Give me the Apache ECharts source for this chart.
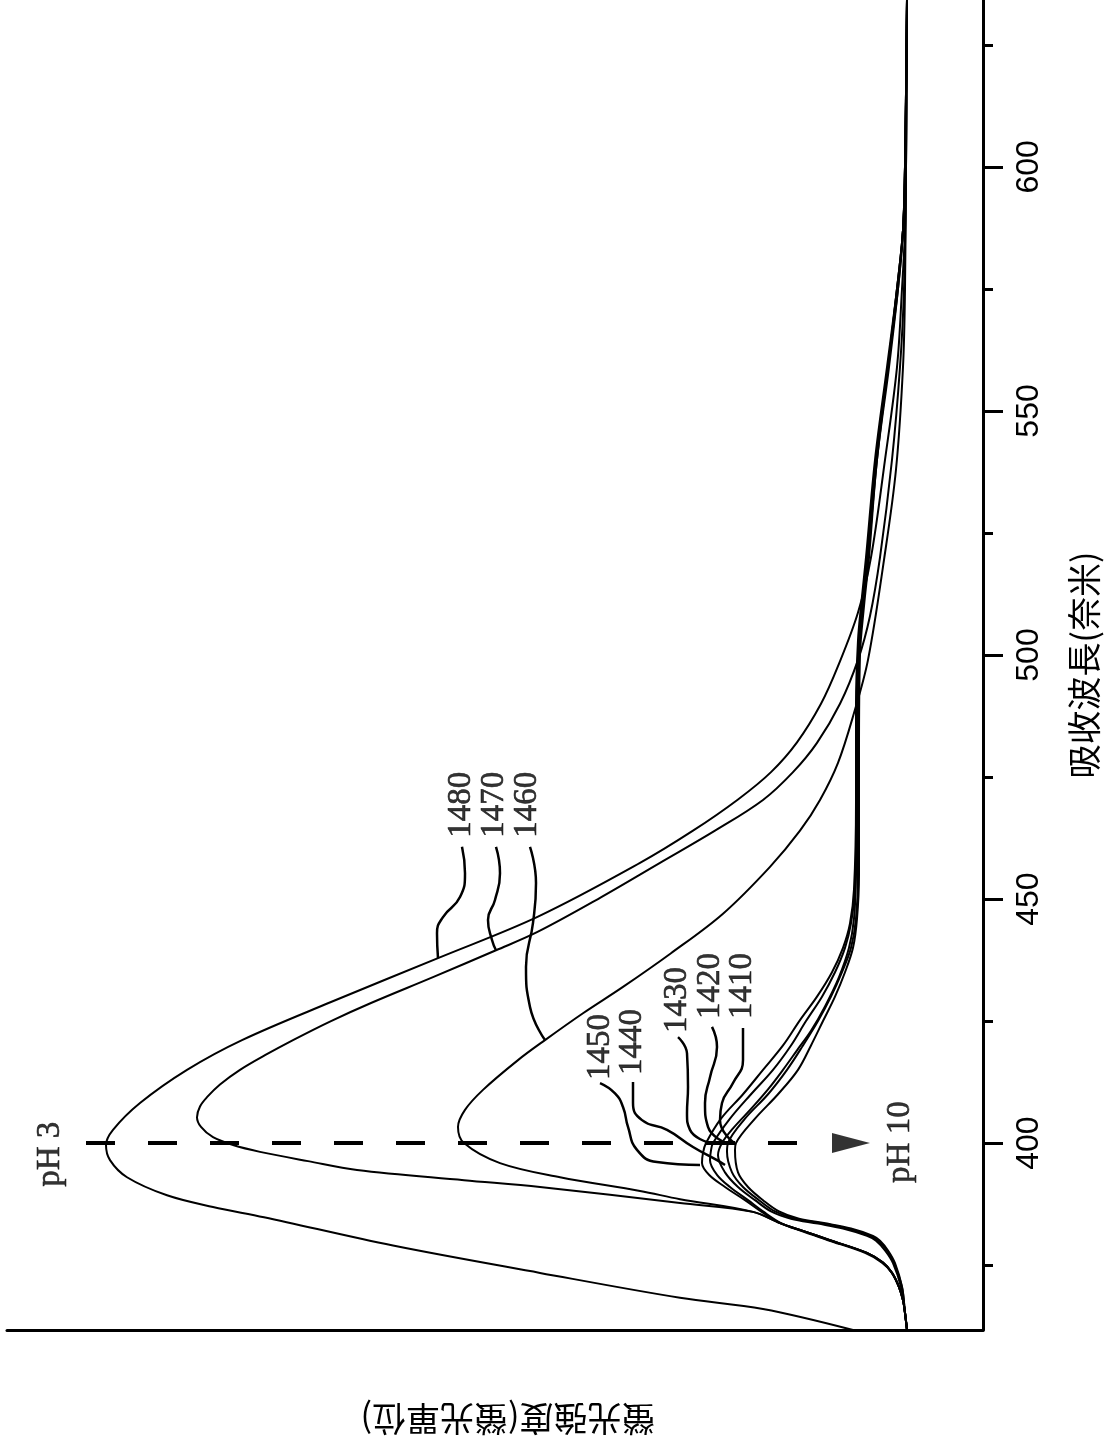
<!DOCTYPE html>
<html>
<head>
<meta charset="utf-8">
<script src="https://cdn.jsdelivr.net/npm/echarts@6/dist/echarts.min.js"></script>
<style>
  html, body { margin: 0; padding: 0; background: #fff; }
  #chart { width: 1112px; height: 1451px; }
</style>
</head>
<body>
<div id="chart"></div>
<script>
// Excitation spectra: each entry is [wavelength (nm), fluorescence intensity]
const curve1480 = [[361.7,130],[366.0,220],[368.3,303],[373.4,443],[379.0,590],[384.8,719],[386.9,770],[389.3,816],[393.0,856],[396.5,873],[399.6,877],[402.7,870],[408.2,843],[415.0,796],[421.1,741],[428.9,652],[437.9,545],[446.4,445],[457.4,343],[464.0,290],[470.4,245],[476.0,212],[482.1,186],[490.0,162],[497.7,145],[508.7,125],[520,112],[540,98],[559,86],[575,81],[587,78],[600,77],[634.2,76]];
const curve1470 = [[361.7,76],[365.2,78],[367.8,80],[370.5,84],[373.4,91],[375.5,100],[377.5,116],[380.1,153],[382.0,180],[383.6,203],[385.9,230],[387.7,303],[391.0,443],[392.4,519],[394.5,626],[396.3,675],[398.2,723],[399.6,750],[401.2,770],[403.3,782],[405.3,786],[407.5,783],[409.4,776],[412.0,763],[415.0,743],[418.0,718],[421.1,690],[425.0,652],[428.7,612],[434.0,550],[439.5,487],[443.2,446],[450.0,385],[457.4,323],[464.0,268],[470.3,220],[476.0,190],[482.0,166],[490.0,143],[499.0,125],[508.0,113],[520,103],[540,91],[559,83],[575,79],[600,77],[634.2,76]];
const curve1460 = [[361.7,76],[365.2,78],[367.8,80],[370.5,84],[373.4,91],[375.5,100],[377.5,116],[380.1,153],[382.0,180],[383.6,203],[385.9,230],[388.5,303],[390.2,343],[393.0,423],[395.9,483],[400.0,519],[403.3,525],[406.8,518],[410.9,500],[417.0,465],[421.1,438],[426.6,400],[432.0,360],[438.9,312],[447.0,260],[456.6,213],[464.0,183],[470.3,163],[477.9,145],[488.1,129],[499.0,115],[519.5,99],[538,87],[559,80],[575,78],[600,77],[634.2,76]];
const curve1450 = [[361.7,76],[365.2,78],[367.8,80],[370.5,84],[373.4,91],[375.5,100],[377.5,116],[380.1,153],[382.0,180],[383.6,203],[386.0,222],[388.3,238],[391.0,258],[393.5,274],[395.9,281],[398.0,280],[400.0,277],[405,262],[410,240],[415,220],[420,200],[425.2,183],[430,166],[435,151],[440,140],[445,133],[452,129],[470,127],[490,127],[503,125],[510,122],[520,117],[540,108],[559,96],[575,86],[587,80],[600,78],[634.2,76]];
const curve1440 = [[361.7,76],[365.2,78],[367.8,80],[370.5,84],[373.4,91],[375.5,101],[377.5,118],[380.1,155],[382.0,182],[383.6,202],[386.0,220],[388.3,235],[391.0,253],[393.5,266],[396.5,273],[398.5,272],[400.0,270],[405,253],[410,232],[415,210],[420,192],[425,177],[430,161],[435,148],[440,138],[445,132],[452,128],[470,126],[490,126],[503,124],[510,121],[520,116],[540,107],[559,95],[575,86],[587,80],[600,78],[634.2,76]];
const curve1430 = [[361.7,76],[365.2,78],[370.5,82],[375.4,90],[378.0,98],[380.0,107],[381.0,116],[382.5,140],[383.5,165],[384.5,192],[386.0,212],[388.3,228],[391.0,245],[394.0,258],[397.5,265],[400.0,261],[403,250],[407,232],[411,215],[415,200],[419,186],[423,172],[428,158],[434,144],[440,134],[446,129],[455,127],[480,126],[500,125],[510,121],[520,116],[540,107],[559,95],[575,86],[587,80],[600,78],[634.2,76]];
const curve1420 = [[361.7,76],[365.2,78],[370.5,81],[375.4,89],[378.0,96],[380.0,105],[381.0,113],[382.5,136],[383.5,160],[384.5,188],[386.0,208],[388.3,224],[391.0,240],[394.0,251],[398.2,256],[400.0,255],[405,238],[410,215],[415,196],[420,180],[425,165],[430,152],[435,141],[440,132],[446,127],[455,125],[480,125],[500,124],[510,120],[520,115],[540,106],[559,95],[575,85],[587,80],[600,78],[634.2,76]];
const curve1410 = [[361.7,76],[365.2,78],[370.5,81],[375.4,88],[378.0,95],[380.0,103],[381.0,110],[382.5,132],[383.5,156],[384.5,184],[386.0,204],[388.3,220],[391.0,235],[394.0,245],[398.6,248],[400.0,247],[405,228],[410,205],[415,185],[420,172],[425,160],[430,148],[435,138],[440,130],[446,126],[455,124],[480,124],[500,123],[510,119],[520,114],[540,106],[559,94],[575,85],[587,80],[600,78],[634.2,76]];

// Wavelength axis
const wavelengthRange = [361.7, 634.2];
const majorTicks = [400, 450, 500, 550, 600];
const minorTicks = [375, 425, 475, 525, 575, 625];
// Intensity axis (arbitrary units, zero at the wavelength axis)
const intensityRange = [0, 976];

// Reference wavelength marker (pH 3 -> pH 10 at 400 nm)
const markerWavelength = 400;
const markerSpan = [897, 183];
const arrowIntensity = 132;

// Reference numerals with their leader lines, in [wavelength, intensity]
const callouts = [
  { text: '1480', at: [469.3, 522], leader: [[460.7,521],[455.3,518],[450.4,523],[446.3,540],[443.0,546],[437.9,545]] },
  { text: '1470', at: [469.3, 489], leader: [[460.7,487],[455.3,483],[449.8,488],[445.7,495],[441.6,491],[439.5,487]] },
  { text: '1460', at: [469.3, 456], leader: [[460.7,453],[453.3,447],[445.1,450],[436.1,457],[427.9,453],[421.1,438]] },
  { text: '1450', at: [419.7, 383], leader: [[412.3,383],[410.2,368],[407.4,360],[403.3,355],[398.6,346],[396.1,326],[395.5,283]] },
  { text: '1440', at: [420.7, 351], leader: [[412.5,350],[408.2,350],[404.7,341],[402.7,316],[399.2,290],[396.5,266],[395.5,258]] },
  { text: '1430', at: [429.3, 306], leader: [[421.7,305],[418.4,296],[411.5,295],[406.1,296],[402.7,293],[400.2,276]] },
  { text: '1420', at: [432.2, 273], leader: [[423.8,271],[419.7,266],[413.5,273],[408.2,278],[403.3,275],[400.0,257]] },
  { text: '1410', at: [432.2, 241], leader: [[423.6,240],[417.0,240],[412.3,250],[408.2,261],[404.7,263],[400.2,250]] }
];
const phNotes = [
  { text: 'pH 3', at: [397.7, 933] },
  { text: 'pH 10', at: [400.2, 83] }
];

const curves = [
  ['1410', curve1410], ['1420', curve1420], ['1430', curve1430], ['1440', curve1440],
  ['1450', curve1450], ['1460', curve1460], ['1470', curve1470], ['1480', curve1480]
];

// [wavelength, intensity] -> [x = intensity, y = wavelength]
const toXY = pts => pts.map(([wl, v]) => [v, wl]);

const series = [];
curves.forEach(([name, pts]) => {
  series.push({
    name: name, type: 'line', data: toXY(pts), smooth: 0.35, symbol: 'none',
    lineStyle: { color: '#000', width: 2 }, silent: true, z: 3
  });
});
callouts.forEach(c => {
  series.push({
    type: 'line', data: toXY(c.leader), smooth: 0.5, symbol: 'none',
    lineStyle: { color: '#000', width: 2.5 }, silent: true, z: 4
  });
});
series.push({
  type: 'scatter', silent: true, z: 5,
  data: callouts.map(c => ({ name: c.text, value: [c.at[1], c.at[0]] }))
    .concat(phNotes.map(p => ({ name: p.text, value: [p.at[1], p.at[0]] }))),
  symbolSize: 1, itemStyle: { color: 'rgba(0,0,0,0)' },
  label: {
    show: true, position: 'inside', rotate: 90, formatter: '{b}',
    fontFamily: 'Liberation Serif', fontSize: 33, color: '#000',
    textBorderColor: '#000', textBorderWidth: 0.6
  }
});
series.push({
  type: 'line', silent: true, z: 2, symbol: 'none',
  data: markerSpan.map(v => [v, markerWavelength]),
  lineStyle: { color: '#000', width: 4, type: [29, 33] }
});
series.push({
  type: 'scatter', silent: true, z: 5,
  data: [[arrowIntensity, markerWavelength]],
  symbol: 'triangle', symbolSize: [20, 38], symbolRotate: -90,
  itemStyle: { color: '#000' }
});

const chart = echarts.init(document.getElementById('chart'), null, { renderer: 'canvas' });
chart.setOption({
  animation: false,
  backgroundColor: '#fff',
  grid: { left: 7, right: 129, top: 0, bottom: 121, containLabel: false, outerBoundsMode: 'none' },
  xAxis: {
    type: 'value', min: intensityRange[0], max: intensityRange[1], inverse: true,
    axisLine: { show: true, lineStyle: { color: '#000', width: 3 } },
    axisTick: { show: false }, axisLabel: { show: false }, splitLine: { show: false },
    name: '螢光強度(螢光單位)', nameLocation: 'middle', nameRotate: 180, nameGap: 72,
    nameTextStyle: { fontFamily: 'Noto Sans CJK TC', fontSize: 34, color: '#000', padding: [0, 26, 0, 0] }
  },
  yAxis: [
    {
      type: 'value', position: 'right', min: wavelengthRange[0], max: wavelengthRange[1],
      axisLine: { show: true, lineStyle: { color: '#000', width: 3 } },
      axisTick: { show: true, customValues: majorTicks, length: 20, lineStyle: { color: '#000', width: 3 } },
      axisLabel: {
        show: true, customValues: majorTicks, rotate: 90, margin: 30,
        fontFamily: 'Liberation Sans', fontSize: 32, color: '#000'
      },
      splitLine: { show: false },
      name: '吸收波長(奈米)', nameLocation: 'middle', nameRotate: 90, nameGap: 84,
      nameTextStyle: { fontFamily: 'Noto Sans CJK TC', fontSize: 34, color: '#000' }
    },
    {
      type: 'value', position: 'right', min: wavelengthRange[0], max: wavelengthRange[1],
      axisLine: { show: false },
      axisTick: { show: true, customValues: minorTicks, length: 10, lineStyle: { color: '#000', width: 3 } },
      axisLabel: { show: false }, splitLine: { show: false }
    }
  ],
  series: series
});
</script>
</body>
</html>
